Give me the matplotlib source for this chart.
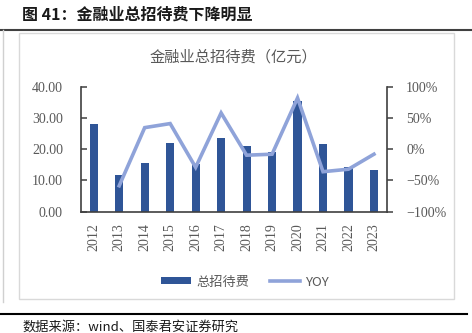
import matplotlib
matplotlib.use("Agg")
import matplotlib.pyplot as plt
from matplotlib.lines import Line2D
from matplotlib.patches import Rectangle, Patch
from matplotlib.ticker import FuncFormatter

plt.rcParams['font.family'] = ['Noto Sans CJK SC', 'DejaVu Sans']

years = ["2012", "2013", "2014", "2015", "2016", "2017", "2018", "2019",
         "2020", "2021", "2022", "2023"]
expense = [28.0, 11.7, 15.5, 22.1, 15.3, 23.7, 21.0, 19.0, 35.4, 21.8, 14.4, 13.3]
yoy = [None, -58.5, 34.5, 41.0, -29.0, 58.0, -9.6, -8.0, 82.0, -36.0, -32.0, -8.0]

left_ticks = [0, 10, 20, 30, 40]
right_ticks = [-100, -50, 0, 50, 100]

W, H = 472, 333
fig = plt.figure(figsize=(W / 100, H / 100), dpi=100)

def fx(px):
    return px / W

def fy(py):
    return 1 - py / H

bar_color = "#2F5597"
line_color = "#8FA3D9"
axis_color = "#404040"
text_gray = "#595959"
serif = ["Liberation Serif", "DejaVu Serif"]

# Decorations: title, rules, chart frame
fig.text(fx(22), fy(15), "图 41：金融业总招待费下降明显", fontsize=11.5,
         fontweight="bold", color="#1a1a1a", va="center", ha="left")
fig.add_artist(Line2D([0, 1], [fy(29.5), fy(29.5)], color=axis_color, lw=1.5))
fig.add_artist(Line2D([0, fx(467)], [fy(314), fy(314)], color="#000000", lw=1.5))
fig.add_artist(Line2D([fx(2.5), fx(2.5)], [fy(30), fy(302)], color="#D0D0D0", lw=1))
fig.add_artist(Rectangle((fx(19), fy(299)), fx(454) - fx(19), fy(33) - fy(299),
                         transform=fig.transFigure, fill=False,
                         edgecolor="#D9D9D9", lw=1))
fig.text(fx(22), fy(327), "数据来源：wind、国泰君安证券研究", fontsize=9.5,
         color="#1a1a1a", va="center", ha="left")
fig.text(fx(233), fy(57), "金融业总招待费（亿元）", fontsize=11, color=text_gray,
         va="center", ha="center")

# Axes
ax = fig.add_axes([fx(81), fy(211.7), fx(386.7) - fx(81), fy(86.7) - fy(211.7)])
x = list(range(len(years)))
ax.bar(x, expense, width=0.32, color=bar_color, zorder=2)
ax.set_xlim(-0.5, len(years) - 0.5)
ax.set_ylim(0, 40)
ax.set_yticks(left_ticks)
ax.yaxis.set_major_formatter(FuncFormatter(lambda v, p: f"{v:.2f}"))
ax.set_xticks(x)
ax.set_xticklabels(years, rotation=90, fontfamily=serif, fontsize=10, color=text_gray)
ax.tick_params(axis="x", length=0, pad=8)
ax.tick_params(axis="y", direction="in", length=4, width=1.1, color=axis_color,
               pad=13, labelcolor=text_gray, labelsize=10)
for lab in ax.get_yticklabels():
    lab.set_fontfamily(serif)
ax.spines["top"].set_visible(False)
ax.spines["right"].set_visible(False)
for s in ("left", "bottom"):
    ax.spines[s].set_color(axis_color)
    ax.spines[s].set_linewidth(1.2)

ax2 = ax.twinx()
xs = [i for i, v in zip(x, yoy) if v is not None]
vs = [v for v in yoy if v is not None]
ax2.plot(xs, vs, color=line_color, lw=2.6, zorder=3, solid_joinstyle="miter")
ax2.set_ylim(-100, 100)
ax2.set_yticks(right_ticks)
ax2.yaxis.set_major_formatter(FuncFormatter(lambda v, p: f"{v:.0f}%".replace("-", "\u2212")))
ax2.tick_params(axis="y", direction="out", length=4, width=1.1, color=axis_color,
                pad=10, labelcolor=text_gray, labelsize=10)
for lab in ax2.get_yticklabels():
    lab.set_fontfamily(serif)
for s in ("top", "left", "bottom"):
    ax2.spines[s].set_visible(False)
ax2.spines["right"].set_color(axis_color)
ax2.spines["right"].set_linewidth(1.2)

handles = [Patch(facecolor=bar_color, edgecolor="none"),
           Line2D([0], [0], color=line_color, lw=2.6)]
fig.legend(handles, ["总招待费", "YOY"], loc="center", bbox_to_anchor=(fx(245), fy(282)),
           ncol=2, frameon=False, fontsize=9.5, handlelength=2.3, handleheight=0.45,
           handletextpad=0.4, columnspacing=1.5, labelcolor=text_gray)

fig.savefig("out.png", dpi=100)
